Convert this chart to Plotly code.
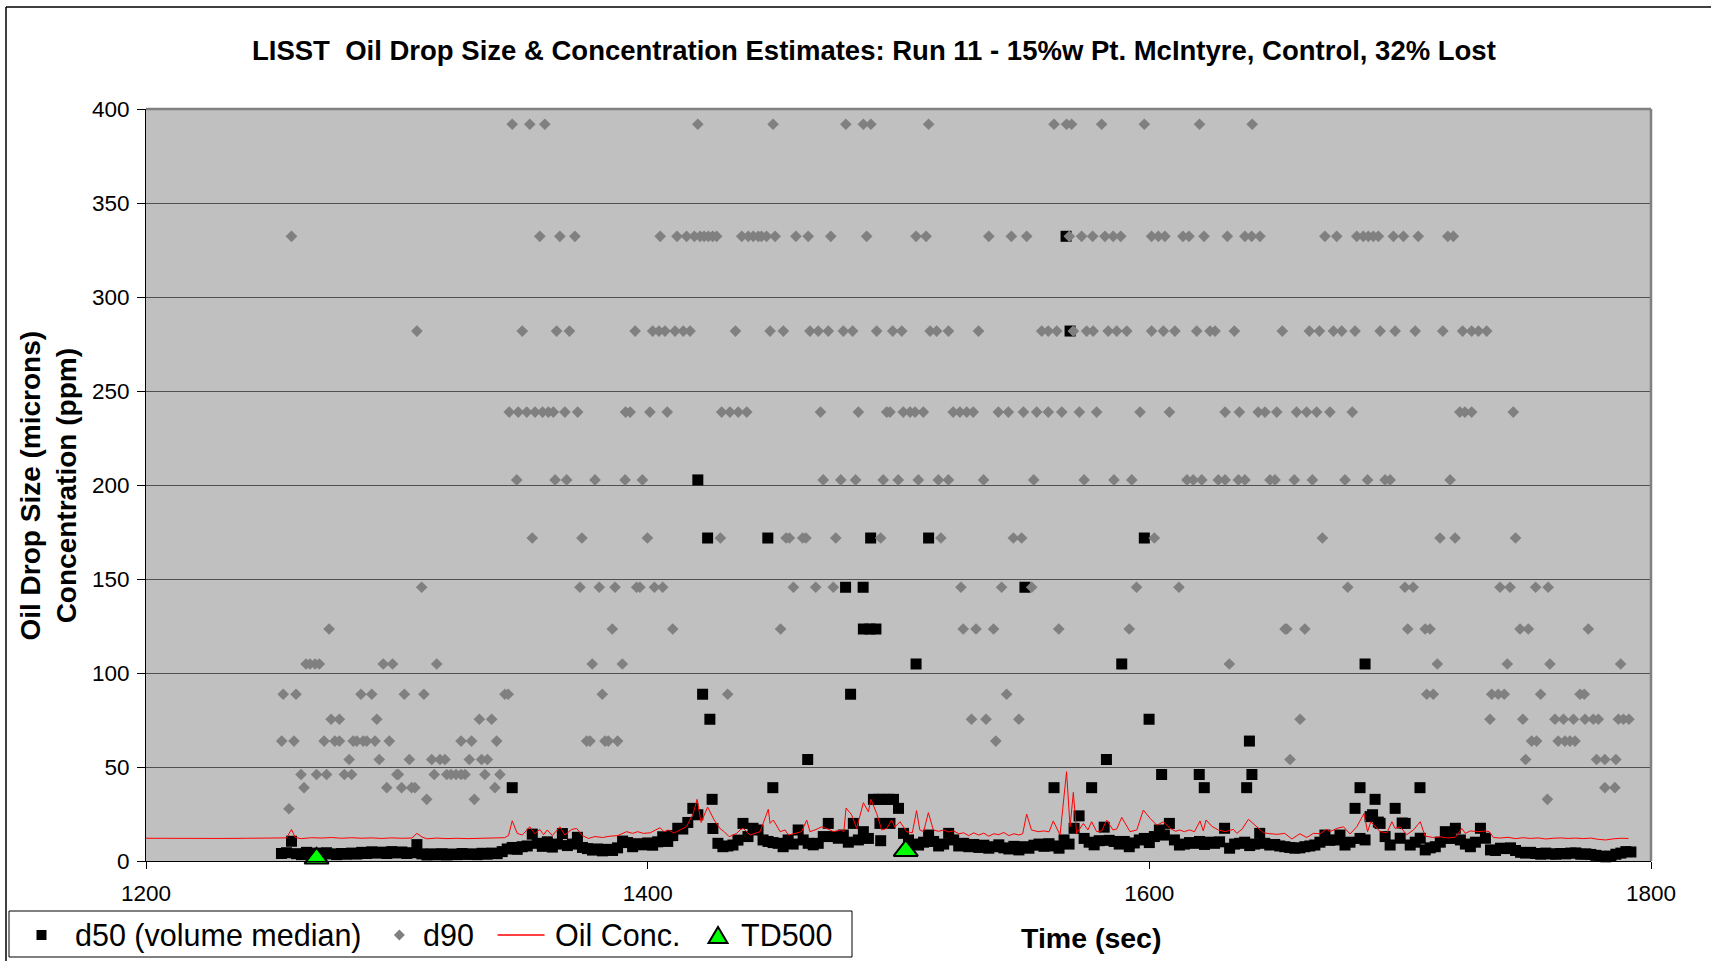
import plotly.graph_objects as go

# ------------------------------------------------------------------
# LISST record, Run 11 (15%w Pt. McIntyre, control)
# ------------------------------------------------------------------

# d50 (volume median, microns) on the 2-second record grid
d50_time = list(range(1254, 1794, 2))
d50_um = [
    4.0, 4.4, 10.5, 3.9, 3.4, 4.6, 3.7, 4.2, 3.6, 4.4,            # 1254-1272
    3.8, 3.4, 4.0, 3.6, 4.2, 3.7, 4.6, 4.0, 4.9, 4.2,             # 1274-1292
    4.7, 4.0, 5.0, 4.3, 4.8, 4.0, 4.4, 8.7, 3.8, 3.2,             # 1294-1312
    3.8, 3.3, 3.9, 3.2, 3.7, 3.4, 4.0, 3.5, 3.8, 3.4,             # 1314-1332
    4.1, 3.6, 4.2, 3.9, 5.0, 6.4, 7.2, 6.2, 7.6, 8.0,             # 1334-1352
    14.3, 9.4, 7.8, 10.2, 7.4, 9.0, 14.6, 8.2, 9.0, 12.6,         # 1354-1372
    7.2, 6.6, 5.8, 6.4, 5.4, 6.2, 5.6, 7.0, 10.6, 9.8,            # 1374-1392
    7.6, 9.2, 8.6, 9.6, 8.4, 10.2, 12.9, 10.4, 13.5, 17.4,        # 1394-1412
    17.0, 20.5, 28.0, 24.6, None, None, 17.3, 9.4, 7.6, 8.0,      # 1414-1432
    8.5, 11.1, 20.0, 13.0, 17.4, 16.5, 11.2, 10.4, 9.8, 9.4,      # 1434-1452
    7.6, 11.2, 9.0, 16.5, 11.2, 9.4, 8.6, 9.4, 13.0, 20.0,        # 1454-1472
    13.0, 12.1, 13.8, 10.0, 20.0, 11.2, 15.6, 12.0, 32.8, 32.8,   # 1474-1492
    32.8, 32.8, 32.8, 28.0, 14.7, 11.2, 9.0, 8.5, 10.0, 13.8,     # 1494-1512
    10.4, 8.0, 9.0, 14.7, 11.2, 8.0, 9.4, 7.6, 8.8, 7.2,          # 1514-1532
    8.4, 6.8, 7.6, 8.6, 7.0, 6.4, 7.8, 5.9, 7.6, 6.8,             # 1534-1552
    8.4, 9.0, 7.8, 9.2, 8.0, 6.8, 11.2, 9.0, 17.4, 24.0,          # 1554-1572
    12.0, 10.0, 8.6, 10.8, 18.0, 11.0, 10.4, 9.0, 10.4, 7.6,      # 1574-1592
    9.6, 11.2, 12.0, 9.8, 13.0, 16.5, 13.8, 20.0, 11.2, 8.5,      # 1594-1612
    9.0, 9.8, 9.4, 10.4, 8.8, 10.0, 9.4, 10.2, 17.4, 6.8,         # 1614-1632
    9.0, 9.4, 10.0, 8.2, 9.0, 14.7, 9.4, 8.5, 8.8, 8.0,           # 1634-1652
    7.6, 7.2, 6.8, 7.0, 7.6, 8.0, 8.5, 10.0, 13.8, 11.0,          # 1654-1672
    11.2, 13.8, 8.5, 10.0, 28.0, 12.0, 11.2, 23.6, 32.8, 20.0,    # 1674-1692
    13.0, 8.5, 28.0, 12.1, 20.0, 8.5, 10.0, 12.1, 5.9, 7.0,       # 1694-1712
    7.6, 10.0, 15.6, 12.0, 17.4, 11.2, 9.0, 7.6, 10.0, 17.4,      # 1714-1732
    12.1, 5.9, 5.6, 6.8, 6.6, 7.0, 5.6, 4.6, 4.2, 4.6,            # 1734-1752
    4.0, 3.6, 4.2, 3.8, 3.6, 4.0, 3.8, 4.2, 4.3, 3.6,             # 1754-1772
    3.8, 3.5, 3.0, 2.6, 2.2, 2.6, 3.6, 4.2, 5.0, 4.8,             # 1774-1792
]

# d50 readings that sit off the main grid (large-drop events)
d50_event_time = [
    1346.0, 1420.0, 1421.9, 1423.9, 1424.8, 1425.7, 1447.9, 1449.9, 1463.8,
    1478.9, 1480.9, 1485.9, 1486.0, 1488.6, 1488.9, 1491.0, 1492.6, 1492.9,
    1496.6, 1507.0, 1512.0, 1550.4, 1562.0, 1566.8, 1568.4, 1577.0, 1582.9,
    1589.0, 1598.0, 1599.9, 1604.9, 1619.9, 1621.9, 1638.8, 1639.9, 1640.9,
    1684.0, 1686.0, 1689.0, 1691.3, 1700.8, 1707.9,
]
d50_event_um = [
    39.0, 202.7, 88.7, 171.8, 75.4, 32.8, 171.8, 39.0, 54.0,
    145.6, 88.7, 145.6, 123.4, 123.4, 171.8, 123.4, 20.0, 10.8,
    20.0, 104.8, 171.8, 145.6, 39.0, 332.3, 281.9, 39.0, 54.0,
    104.8, 171.8, 75.4, 46.0, 46.0, 39.0, 39.0, 63.8, 46.0,
    39.0, 104.8, 24.6, 20.7, 20.2, 39.0,
]

# d90 (microns): the instrument reports size classes, listed here
# as the times (sec) at which d90 fell in each class
d90_t_392 = [1346, 1353, 1359, 1420, 1450, 1479, 1486, 1489, 1512, 1562, 1567,
             1569, 1581, 1598, 1620, 1641]
d90_t_332 = [1258, 1357, 1365, 1371, 1405, 1411.7, 1415.5, 1418.6, 1420.9,
             1422.5, 1424.2, 1425.9, 1427.5, 1437.5, 1440.1, 1442.1, 1444.1,
             1445.4, 1447.4, 1450.8, 1459.1, 1464, 1473, 1487.3, 1507, 1511,
             1536, 1545, 1551.1, 1568.1, 1573, 1577.4, 1582.3, 1585.6, 1588.6,
             1600.9, 1603.6, 1606.2, 1613.4, 1615.8, 1621.8, 1631.1, 1638.1,
             1640.8, 1644.1, 1670, 1674.7, 1682.7, 1685.3, 1687.3, 1689.3,
             1691.3, 1697.3, 1701.3, 1707.2, 1719, 1721.2]
d90_t_282 = [1308, 1350, 1363.7, 1368.8, 1395, 1402, 1404.5, 1406.9, 1410.9,
             1414.2, 1416.9, 1435, 1448.8, 1454.1, 1464.7, 1468, 1472, 1478,
             1481.7, 1491.3, 1497.7, 1501.3, 1512.6, 1515.2, 1519.9, 1531.9,
             1557.1, 1559.7, 1563.1, 1569.7, 1575, 1577.6, 1583.6, 1587, 1591,
             1600.9, 1605.6, 1610.2, 1618.9, 1624.2, 1626.2, 1633.9, 1653,
             1663.8, 1667.8, 1673.4, 1676.7, 1682, 1692, 1698, 1706, 1717,
             1724.9, 1728.5, 1731.2, 1734.5]
d90_t_239 = [1344.8, 1348.4, 1351.8, 1355.1, 1358.1, 1360.4, 1362.4, 1367,
             1372.1, 1391.2, 1393, 1400.9, 1407.8, 1429.5, 1432.8, 1436.1,
             1439.5, 1468.9, 1484, 1495.3, 1496.6, 1501.9, 1504.6, 1506.6,
             1509.9, 1521.8, 1524.5, 1527.2, 1529.8, 1539.8, 1543.8, 1549.8,
             1555.1, 1559.7, 1565.1, 1572.1, 1579, 1596.3, 1608, 1630.2,
             1635.9, 1643.4, 1646.1, 1650.8, 1658.7, 1662.7, 1666.7, 1672,
             1680.9, 1723.8, 1725.8, 1728.5, 1745.1]
d90_t_203 = [1347.8, 1363.1, 1367.7, 1379, 1391, 1397.9, 1470, 1477, 1482.9,
             1493.9, 1499.9, 1507.9, 1515.9, 1519.9, 1533.9, 1553.9, 1574,
             1585.9, 1593, 1615, 1617.5, 1620.9, 1627.5, 1630.2, 1635.5,
             1638.1, 1648.1, 1650.1, 1657.8, 1665, 1678, 1687, 1694, 1696,
             1719.9]
d90_t_172 = [1354, 1373.8, 1399.9, 1429, 1455.2, 1456.5, 1461.8, 1463.1, 1475,
             1492.9, 1516.9, 1545.8, 1549.1, 1602, 1669, 1715.9, 1721.9, 1746]
d90_t_146 = [1309.9, 1373, 1380.7, 1387, 1395.6, 1396.9, 1402.7, 1406, 1458.1,
             1467, 1474, 1524.9, 1541.1, 1553.1, 1594.9, 1611.8, 1679.1,
             1701.9, 1705.2, 1739.8, 1743.8, 1754, 1759]
d90_t_124 = [1273, 1385.9, 1410, 1453, 1525.8, 1530.9, 1537.9, 1563.9, 1592,
             1654.1, 1654.8, 1662, 1703, 1710, 1711.9, 1747.8, 1751.1, 1775]
d90_t_105 = [1263.8, 1265.4, 1267.4, 1269.1, 1294.6, 1298.3, 1315.9, 1377.9,
             1389.9, 1631.9, 1714.8, 1742.7, 1759.7, 1787.9]
d90_t_89 = [1254.7, 1259.8, 1285.7, 1290, 1303, 1310.8, 1343.1, 1344.4, 1381.9,
            1431.9, 1543.1, 1710.6, 1713.2, 1736.5, 1739.1, 1741.5, 1756,
            1771.7, 1773.4]
d90_t_76 = [1273.8, 1277.1, 1292, 1332.9, 1337.8, 1529.1, 1534.9, 1548, 1660.1,
            1735.8, 1748.9, 1761.7, 1765.1, 1769.1, 1773.7, 1777, 1779, 1787,
            1789, 1791.2]
d90_t_64 = [1254.1, 1259, 1271, 1275.3, 1277.1, 1282.6, 1284, 1286.6, 1288,
            1291.3, 1297, 1325.6, 1329.8, 1339.8, 1375.7, 1377, 1383, 1384.3,
            1388, 1538.8, 1752.4, 1754.4, 1763, 1765.7, 1767.7, 1769.7]
d90_t_54 = [1281, 1293, 1305, 1313.9, 1317.2, 1319.2, 1328.9, 1333.8, 1336.1,
            1656.1, 1750, 1778.3, 1781.6, 1786]
d90_t_46 = [1261.8, 1268, 1272, 1279.1, 1282, 1300, 1300.6, 1314.9, 1319.9,
            1321.6, 1323.6, 1325.6, 1327.2, 1335.1, 1341.1]
d90_t_39 = [1263, 1296, 1301.9, 1305.9, 1307.2, 1339.1, 1781.6, 1785.6]
d90_t_33 = [1311.9, 1330.9, 1758.7]
d90_t_28 = [1257]

d90_classes = [
    (391.9, d90_t_392), (332.3, d90_t_332), (281.9, d90_t_282),
    (238.8, d90_t_239), (202.7, d90_t_203), (171.8, d90_t_172),
    (145.6, d90_t_146), (123.4, d90_t_124), (104.8, d90_t_105),
    (88.7, d90_t_89), (75.4, d90_t_76), (63.8, d90_t_64), (54.0, d90_t_54),
    (46.0, d90_t_46), (39.0, d90_t_39), (32.8, d90_t_33), (27.8, d90_t_28),
]

# Oil concentration (ppm)
oil_time = [
    1200, 1210, 1220, 1230, 1240, 1250, 1254, 1256, 1258, 1259.5, 1262, 1266,
    1270, 1274, 1278, 1282, 1286, 1290, 1294, 1298, 1302, 1306, 1308, 1310,
    1312, 1316, 1320, 1324, 1328, 1332, 1336, 1340, 1343, 1344.5, 1346, 1348,
    1350, 1353, 1355, 1357, 1358.5, 1360, 1362, 1365, 1367, 1369.7, 1371.7,
    1374, 1376.4, 1379, 1382, 1385, 1388, 1391.6, 1394, 1396, 1398.3, 1401,
    1404.9, 1406.5, 1408.2, 1410.5, 1412.9, 1415.5, 1418.2, 1419.7, 1421.3,
    1423.9, 1426.5, 1428.8, 1430.5, 1432.5, 1435.5, 1436.8, 1438.1, 1440.8,
    1444.8, 1448.1, 1448.8, 1450.1, 1452.8, 1454.8, 1456.1, 1459.4, 1461.4,
    1463.4, 1464.7, 1466.7, 1469.4, 1471.4, 1474.0, 1477.0, 1478.2, 1479.1,
    1481.3, 1483.3, 1486.0, 1488.0, 1489.0, 1491.3, 1493.3, 1495.3, 1497.3,
    1498.5, 1500.6, 1503.2, 1505.5, 1507.2, 1508.5, 1510, 1511.9, 1513.9,
    1516, 1518, 1520, 1522, 1524, 1526, 1528, 1530, 1532, 1534, 1536, 1538,
    1540, 1542, 1544, 1546, 1548, 1549.5, 1551.1, 1553, 1555.7, 1558, 1560,
    1561.7, 1564.4, 1567.0, 1568.4, 1569.7, 1571, 1573.7, 1575.5, 1577.0,
    1579, 1581, 1583.0, 1585.5, 1587, 1589.0, 1592.3, 1595, 1597.6, 1600.3,
    1603, 1605.6, 1608.3, 1610.5, 1612, 1614, 1616, 1618, 1620.2, 1621.5,
    1622.6, 1624.9, 1627.5, 1630.2, 1633.5, 1634.9, 1637, 1639.5, 1642,
    1645.5, 1648, 1651, 1654, 1656.8, 1660, 1662.8, 1665.4, 1668, 1670.7,
    1672, 1674.7, 1677.4, 1680.0, 1682.7, 1685.6, 1687.0, 1688.3, 1690,
    1692.0, 1694.7, 1696.7, 1698, 1700, 1702.6, 1705.3, 1708.0, 1709.9, 1713,
    1716, 1719, 1722, 1724.6, 1726, 1728, 1731, 1734, 1735.5, 1737.2, 1740,
    1743, 1746, 1749, 1752, 1755, 1758, 1761, 1764, 1767, 1770, 1773, 1776,
    1779, 1782, 1785, 1788, 1791,
]
oil_ppm = [
    12.1, 12.0, 12.1, 12.0, 12.1, 12.0, 12.2, 12.3, 16.8, 12.5, 11.9, 12.4,
    12.2, 12.5, 12.1, 12.4, 12.1, 12.3, 12.0, 12.3, 12.1, 12.2, 14.7, 12.8,
    11.8, 12.2, 11.9, 12.1, 11.9, 12.1, 12.0, 12.2, 12.4, 13.5, 21.4, 14.7,
    13.8, 18.2, 14.5, 16.8, 14.0, 16.5, 13.5, 18.2, 13.8, 16.8, 17.3,
    13.5, 12.0, 13.0, 12.5, 13.2, 13.5, 15.6, 14.7, 15.6, 14.7, 15.0,
    17.7, 15.6, 16.5, 14.9, 16.5, 18.3, 25.4, 32.8, 20.5,
    28.7, 21.8, 17.3, 15.6, 12.9, 14.7, 16.5, 17.4, 13.8,
    15.6, 27.5, 20.0, 21.8, 15.6, 16.5, 13.8, 14.7, 15.6,
    21.8, 15.6, 16.5, 18.2, 17.3, 15.6, 16.5, 15.5, 28.2,
    24.6, 17.4, 31.0, 26.2, 32.8, 25.3, 16.5, 17.3, 21.8,
    18.0, 20.9, 15.6, 15.0, 26.8, 16.5, 15.6, 25.7, 16.5,
    15.8, 16.5, 15.5, 16.0, 14.5, 15.0, 13.5, 15.0, 13.8, 14.8, 13.2, 14.5,
    14.0, 15.2, 13.5, 14.5, 13.8, 14.5, 25.0, 16.5, 15.6, 16.0, 15.5,
    21.3, 13.8, 47.5, 18.2, 36.5, 14.7, 20.0, 16.5, 20.9,
    15.6, 16.0, 21.8, 16.5, 17.0, 23.2, 15.6, 16.5, 27.1, 22.7,
    19.0, 20.9, 17.3, 15.8, 16.5, 15.6, 16.5, 15.6, 21.3, 16.0,
    21.8, 18.5, 16.5, 15.6, 16.8, 14.7, 17.0, 22.2, 19.0,
    15.0, 14.5, 14.2, 14.7, 11.7, 14.5, 12.5, 14.7, 14.5, 16.8,
    15.6, 17.3, 18.2, 14.4, 18.2, 25.3, 15.6, 20.9, 18.2,
    15.6, 15.0, 20.9, 17.3, 18.2, 14.0, 16.5, 20.9, 13.3, 12.5,
    12.8, 12.3, 12.6, 17.3, 14.7, 16.0, 15.6, 16.0, 15.6, 12.5, 12.2,
    12.6, 11.9, 12.4, 12.0, 12.3, 11.7, 12.1, 12.3, 12.0, 12.2, 11.9, 12.2,
    11.5, 11.2, 11.8, 12.1, 12.0,
]

# TD500 markers
td500_time = [1268.0, 1502.9]
td500_val = [1.4, 5.5]

# ------------------------------------------------------------------
# Page geometry (pixels) and helpers to place things in paper space
# ------------------------------------------------------------------
W, H = 1711, 961
PLOT_L, PLOT_R, PLOT_T, PLOT_B = 146, 1651, 109, 861


def px(x):
    return (x - PLOT_L) / (PLOT_R - PLOT_L)


def py(y):
    return (PLOT_B - y) / (PLOT_B - PLOT_T)


FONT = "Liberation Sans, Arial, sans-serif"

d90_time = [t for _, ts in d90_classes for t in ts]
d90_um = [v for v, ts in d90_classes for _ in ts]

fig = go.Figure()

fig.add_trace(go.Scatter(
    x=d50_time + d50_event_time, y=d50_um + d50_event_um,
    mode="markers", name="d50 (volume median)",
    marker=dict(symbol="square", size=11, color="#000000", line=dict(width=0)),
    cliponaxis=False,
))
fig.add_trace(go.Scatter(
    x=d90_time, y=d90_um, mode="markers", name="d90",
    marker=dict(symbol="diamond", size=9, color="#808080", line=dict(width=0)),
))
fig.add_trace(go.Scatter(
    x=oil_time, y=oil_ppm, mode="lines", name="Oil Conc.",
    line=dict(color="#FF0000", width=1),
))
fig.add_trace(go.Scatter(
    x=td500_time, y=td500_val, mode="markers", name="TD500",
    marker=dict(symbol="triangle-up", size=21, color="#00FF00",
                line=dict(color="#000000", width=2)),
    cliponaxis=False,
))

shapes = []
# outer chart border (runs off the page at right and bottom)
shapes.append(dict(type="line", xref="paper", yref="paper",
                   x0=px(6), x1=px(W + 20), y0=py(7), y1=py(7),
                   line=dict(color="#000000", width=1.5)))
shapes.append(dict(type="line", xref="paper", yref="paper",
                   x0=px(6), x1=px(6), y0=py(7), y1=py(H + 20),
                   line=dict(color="#000000", width=1.5)))
# grey plot-area frame at top and right
shapes.append(dict(type="line", xref="paper", yref="paper",
                   x0=0, x1=1, y0=1, y1=1,
                   line=dict(color="#808080", width=2.5)))
shapes.append(dict(type="line", xref="paper", yref="paper",
                   x0=1, x1=1, y0=0, y1=1,
                   line=dict(color="#808080", width=2.5)))

# legend box and its keys
LEG_Y = 935
shapes.append(dict(type="rect", xref="paper", yref="paper",
                   x0=px(9), x1=px(852), y0=py(957), y1=py(911),
                   fillcolor="#FFFFFF", line=dict(color="#000000", width=1)))
shapes.append(dict(type="rect", xref="paper", yref="paper",
                   x0=px(36.5), x1=px(46.5), y0=py(LEG_Y + 5), y1=py(LEG_Y - 5),
                   fillcolor="#000000", line=dict(width=0)))
dx, dc = 5.5, 399.4
shapes.append(dict(type="path", xref="paper", yref="paper",
                   path=(f"M{px(dc - dx)},{py(LEG_Y)} L{px(dc)},{py(LEG_Y - dx)} "
                         f"L{px(dc + dx)},{py(LEG_Y)} L{px(dc)},{py(LEG_Y + dx)} Z"),
                   fillcolor="#808080", line=dict(width=0)))
shapes.append(dict(type="line", xref="paper", yref="paper",
                   x0=px(497.6), x1=px(544.5), y0=py(LEG_Y), y1=py(LEG_Y),
                   line=dict(color="#FF0000", width=1.5)))
tc = 718
shapes.append(dict(type="path", xref="paper", yref="paper",
                   path=(f"M{px(tc - 9.5)},{py(LEG_Y + 8)} L{px(tc + 9.5)},{py(LEG_Y + 8)} "
                         f"L{px(tc)},{py(LEG_Y - 8)} Z"),
                   fillcolor="#00FF00", line=dict(color="#000000", width=2)))

annotations = [
    dict(text="LISST  Oil Drop Size & Concentration Estimates: Run 11 - 15%w Pt. McIntyre, Control, 32% Lost",
         x=px(873.5), y=py(50), xref="paper", yref="paper",
         xanchor="center", yanchor="middle", showarrow=False,
         font=dict(family=FONT, size=27.5, color="#000000", weight="bold")),
    dict(text="Oil Drop Size (microns)<br>Concentration (ppm)",
         x=px(47.5), y=py(486), xref="paper", yref="paper", textangle=-90,
         xanchor="center", yanchor="middle", showarrow=False,
         font=dict(family=FONT, size=28, color="#000000", weight="bold")),
    dict(text="Time (sec)", x=px(1091), y=py(938), xref="paper", yref="paper",
         xanchor="center", yanchor="middle", showarrow=False,
         font=dict(family=FONT, size=28.5, color="#000000", weight="bold")),
]
for label, xl in [("d50 (volume median)", 73), ("d90", 421),
                  ("Oil Conc.", 553), ("TD500", 739)]:
    annotations.append(dict(text=label, x=px(xl), y=py(LEG_Y), xref="paper",
                            yref="paper", xanchor="left", yanchor="middle",
                            showarrow=False,
                            font=dict(family=FONT, size=30.5, color="#000000")))

fig.update_layout(
    width=W, height=H, autosize=False,
    margin=dict(l=PLOT_L, r=W - PLOT_R, t=PLOT_T, b=H - PLOT_B, pad=0),
    paper_bgcolor="#FFFFFF", plot_bgcolor="#C0C0C0",
    showlegend=False,
    shapes=shapes, annotations=annotations,
    xaxis=dict(range=[1200, 1800], tickvals=[1200, 1400, 1600, 1800],
               ticks="outside", ticklen=7, tickcolor="#000000", tickwidth=1,
               ticklabelstandoff=5,
               showline=True, linecolor="#000000", linewidth=1,
               showgrid=False, zeroline=False,
               tickfont=dict(family=FONT, size=22.5, color="#000000")),
    yaxis=dict(range=[0, 400], tickvals=list(range(0, 401, 50)),
               ticks="outside", ticklen=8, tickcolor="#000000", tickwidth=1,
               ticklabelstandoff=3,
               showline=True, linecolor="#000000", linewidth=1,
               showgrid=True, gridcolor="#505050", gridwidth=1,
               zeroline=False,
               tickfont=dict(family=FONT, size=22.5, color="#000000")),
)

fig.write_html("out.html")
